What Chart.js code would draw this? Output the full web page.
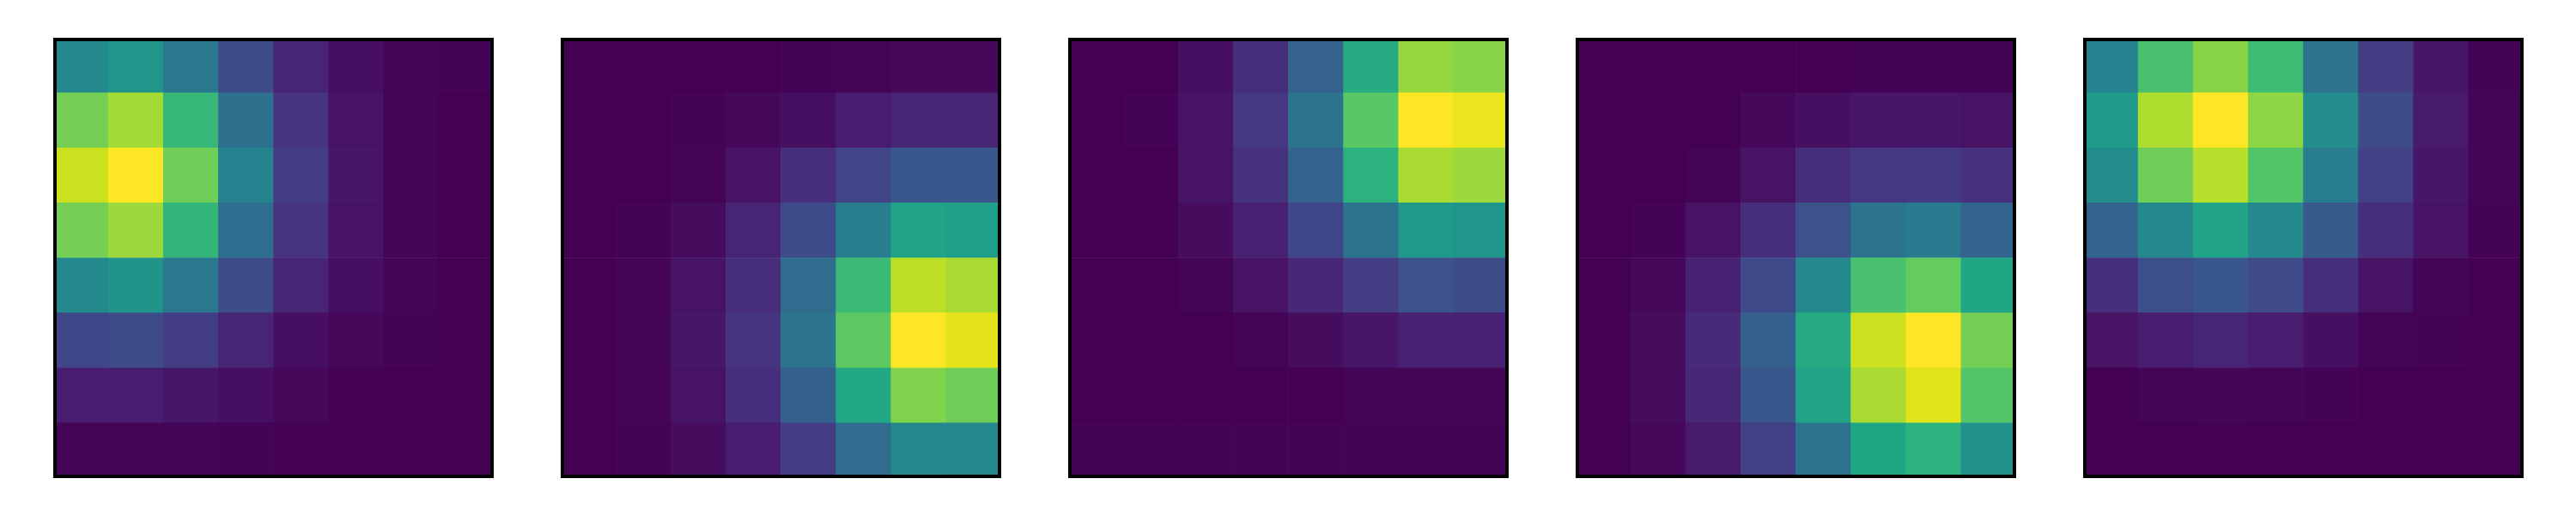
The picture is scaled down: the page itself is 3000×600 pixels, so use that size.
<!DOCTYPE html>
<html>
<head>
<meta charset="utf-8">
<script src="https://cdn.jsdelivr.net/npm/chart.js@4/dist/chart.umd.min.js"></script>
<style>
  body { margin: 0; background: #fff; width: 3000px; height: 600px; position: relative; overflow: hidden; }
  canvas { position: absolute; top: 44px; }
</style>
</head>
<body>
<canvas id="c0" width="513" height="513" style="left:62px"></canvas>
<canvas id="c1" width="513" height="513" style="left:653px"></canvas>
<canvas id="c2" width="513" height="513" style="left:1244px"></canvas>
<canvas id="c3" width="513" height="513" style="left:1835px"></canvas>
<canvas id="c4" width="513" height="513" style="left:2426px"></canvas>
<script>
// grid columns / rows (rows listed top to bottom)
var cols = ['0', '1', '2', '3', '4', '5', '6', '7'];
var rows = [0, 1, 2, 3, 4, 5, 6, 7];

var panel1 = [
  [0.47, 0.52, 0.40, 0.23, 0.10, 0.04, 0.01, 0.005],
  [0.79, 0.86, 0.67, 0.37, 0.15, 0.05, 0.01, 0.00],
  [0.92, 1.00, 0.78, 0.44, 0.18, 0.06, 0.01, 0.00],
  [0.79, 0.85, 0.66, 0.36, 0.15, 0.05, 0.01, 0.00],
  [0.47, 0.51, 0.40, 0.23, 0.10, 0.04, 0.01, 0.00],
  [0.21, 0.23, 0.18, 0.10, 0.04, 0.02, 0.005, 0.00],
  [0.08, 0.08, 0.06, 0.04, 0.02, 0.00, 0.00, 0.00],
  [0.01, 0.01, 0.01, 0.005, 0.00, 0.00, 0.00, 0.00]
];
var panel2 = [
  [0.00, 0.00, 0.00, 0.00, 0.005, 0.01, 0.02, 0.02],
  [0.00, 0.00, 0.005, 0.02, 0.04, 0.08, 0.10, 0.10],
  [0.00, 0.00, 0.01, 0.05, 0.13, 0.20, 0.27, 0.27],
  [0.00, 0.005, 0.03, 0.10, 0.23, 0.42, 0.58, 0.56],
  [0.00, 0.01, 0.05, 0.13, 0.35, 0.68, 0.90, 0.87],
  [0.00, 0.01, 0.06, 0.15, 0.38, 0.75, 1.00, 0.96],
  [0.00, 0.01, 0.05, 0.13, 0.30, 0.60, 0.81, 0.78],
  [0.00, 0.005, 0.03, 0.08, 0.18, 0.35, 0.47, 0.46]
];
var panel3 = [
  [0.00, 0.00, 0.04, 0.13, 0.31, 0.61, 0.84, 0.82],
  [0.00, 0.005, 0.05, 0.16, 0.38, 0.74, 1.00, 0.97],
  [0.00, 0.00, 0.05, 0.14, 0.32, 0.64, 0.87, 0.85],
  [0.00, 0.00, 0.03, 0.09, 0.21, 0.38, 0.54, 0.52],
  [0.00, 0.00, 0.01, 0.05, 0.11, 0.18, 0.25, 0.23],
  [0.00, 0.00, 0.00, 0.01, 0.03, 0.06, 0.09, 0.09],
  [0.00, 0.00, 0.00, 0.00, 0.00, 0.01, 0.01, 0.01],
  [0.005, 0.005, 0.005, 0.005, 0.005, 0.005, 0.005, 0.005]
];
var panel4 = [
  [0.00, 0.00, 0.00, 0.00, 0.00, 0.005, 0.005, 0.005],
  [0.00, 0.00, 0.00, 0.02, 0.04, 0.06, 0.06, 0.05],
  [0.00, 0.00, 0.01, 0.05, 0.13, 0.16, 0.17, 0.14],
  [0.00, 0.005, 0.05, 0.13, 0.25, 0.38, 0.41, 0.32],
  [0.00, 0.02, 0.09, 0.22, 0.47, 0.71, 0.76, 0.59],
  [0.00, 0.03, 0.12, 0.30, 0.61, 0.92, 1.00, 0.79],
  [0.00, 0.03, 0.11, 0.27, 0.58, 0.87, 0.95, 0.73],
  [0.00, 0.02, 0.07, 0.19, 0.38, 0.59, 0.64, 0.50]
];
var panel5 = [
  [0.44, 0.71, 0.82, 0.69, 0.38, 0.18, 0.06, 0.005],
  [0.55, 0.88, 1.00, 0.83, 0.48, 0.23, 0.07, 0.01],
  [0.48, 0.78, 0.89, 0.73, 0.42, 0.19, 0.06, 0.01],
  [0.32, 0.47, 0.58, 0.47, 0.28, 0.13, 0.05, 0.005],
  [0.13, 0.24, 0.27, 0.22, 0.13, 0.05, 0.01, 0.00],
  [0.05, 0.08, 0.10, 0.08, 0.04, 0.01, 0.005, 0.00],
  [0.00, 0.01, 0.015, 0.01, 0.005, 0.00, 0.00, 0.00],
  [0.00, 0.00, 0.00, 0.00, 0.00, 0.00, 0.00, 0.00]
];
var panels = [panel1, panel2, panel3, panel4, panel5];

// viridis stops every 0.05
var viridis = ['#440154','#471365','#482475','#463480','#414487','#3b528b','#355f8d','#2f6c8e',
  '#2a788e','#25848e','#21918c','#1e9c89','#22a884','#2fb47c','#42be71','#5ec962','#7ad151',
  '#9bd93c','#bddf26','#dfe318','#fde725'];

function hexRgb(h) {
  return [parseInt(h.substr(1,2),16), parseInt(h.substr(3,2),16), parseInt(h.substr(5,2),16)];
}

function cmap(v) {
  v = Math.max(0, Math.min(1, v));
  var p = v * (viridis.length - 1);
  var i = Math.min(Math.floor(p), viridis.length - 2);
  var t = p - i;
  var a = hexRgb(viridis[i]), b = hexRgb(viridis[i+1]);
  var c = a.map(function(x, k) { return Math.round(x + (b[k] - x) * t); });
  return 'rgb(' + c[0] + ',' + c[1] + ',' + c[2] + ')';
}

var frame = {
  id: 'frame',
  afterDraw: function(chart) {
    var ctx = chart.ctx;
    ctx.save();
    ctx.strokeStyle = '#000';
    ctx.lineWidth = 4;
    ctx.strokeRect(2, 2, chart.width - 4, chart.height - 4);
    ctx.restore();
  }
};

panels.forEach(function(grid, n) {
  // stack rows from the bottom up, one unit high each
  var datasets = rows.slice().reverse().map(function(r) {
    return {
      data: cols.map(function() { return 1; }),
      backgroundColor: grid[r].map(cmap),
      borderWidth: 0,
      barPercentage: 1,
      categoryPercentage: 1
    };
  });
  new Chart(document.getElementById('c' + n), {
    type: 'bar',
    data: { labels: cols, datasets: datasets },
    options: {
      responsive: false,
      animation: false,
      layout: { padding: 0 },
      plugins: { legend: { display: false }, tooltip: { enabled: false } },
      scales: {
        x: { stacked: true, display: false },
        y: { stacked: true, display: false, min: 0, max: rows.length }
      }
    },
    plugins: [frame]
  });
});
</script>
</body>
</html>
